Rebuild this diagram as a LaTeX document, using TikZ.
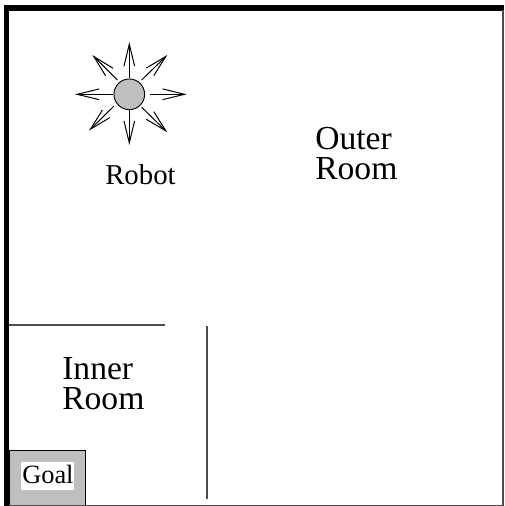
\documentclass[tikz,border=0pt]{standalone}
\usepackage{fontspec}
\setmainfont{Liberation Serif}
\usetikzlibrary{arrows.meta}
\tikzset{
  wall/.style={line width=4.2pt,line cap=butt},
  thinwall/.style={line width=0.8pt,draw=black!70},
  ray/.style={line width=0.75pt,-{Straight Barb[length=16.5pt,width=8pt,line width=0.75pt]}},
  big/.style={font=\fontsize{25.2}{22.5}\selectfont,align=left,inner sep=0pt,anchor=north west},
  lbl/.style={inner sep=0pt,anchor=base west}
}
\begin{document}
\begin{tikzpicture}[x=0.75pt,y=-0.75pt]
\useasboundingbox (0,0) rectangle (504,506);
\fill[white] (0,0) rectangle (504,506);
\coordinate (tl) at (6.6,7.8);
\coordinate (tr) at (504,7.8);
\coordinate (bl) at (6.6,506);
\coordinate (br) at (503,505.2);
\coordinate (brr) at (503,10);
\coordinate (bll) at (9,505.2);
\node[draw=black,line width=0.7pt,fill=black!25,inner sep=0pt,anchor=north west,minimum width=57pt,minimum height=41.2pt] (goalbox) at (8.5,450) {};
\node[fill=white,inner sep=0pt,anchor=north west,minimum width=39.5pt,minimum height=20.5pt] (goalbg) at (21,462) {};
\node[lbl,font=\fontsize{19.8}{22}\selectfont] (goal) at (22,483) {Goal};
\draw[wall] (bl) -- (tl) -- (tr);
\draw[thinwall] (brr) -- (br) -- (bll);
\coordinate (w1a) at (9,325);
\coordinate (w1b) at (165,325);
\coordinate (w2a) at (207,326);
\coordinate (w2b) at (207,499);
\draw[thinwall] (w1a) -- (w1b);
\draw[thinwall] (w2a) -- (w2b);
\node[circle,draw=black,line width=0.7pt,fill=black!25,inner sep=0pt,minimum size=23pt] (robot) at (129.3,94.3) {};
\coordinate (r0) at (186.7,94.3);
\coordinate (r1) at (167.3,55);
\coordinate (r2) at (129.3,42);
\coordinate (r3) at (92.3,55);
\coordinate (r4) at (75,94.3);
\coordinate (r5) at (89,130.7);
\coordinate (r6) at (129.3,145);
\coordinate (r7) at (167.3,132.3);
\coordinate (s0) at (150,94.3);
\coordinate (s1) at (141.7,80);
\coordinate (s2) at (129.3,77.7);
\coordinate (s3) at (117.3,80);
\coordinate (s4) at (113,94.3);
\coordinate (s5) at (114,106);
\coordinate (s6) at (129.3,110);
\coordinate (s7) at (141.7,107.3);
\foreach \i in {0,...,7}{\draw[ray] (s\i) -- (r\i);}
\node[lbl,font=\fontsize{21.6}{24}\selectfont] (rl) at (105,184) {Robot};
\node[big] (outer) at (315,127) {Outer\\Room};
\node[big] (inner) at (62,357) {Inner\\Room};
\end{tikzpicture}
\end{document}
